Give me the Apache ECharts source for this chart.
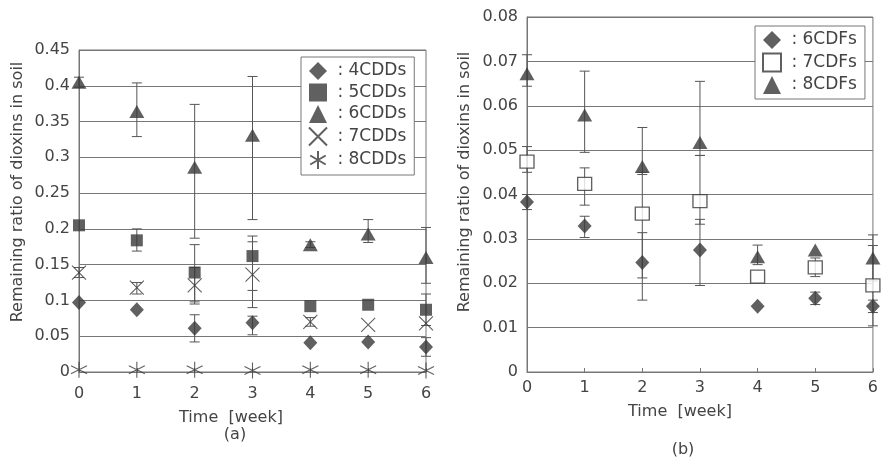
<!DOCTYPE html>
<html>
<head>
<meta charset="utf-8">
<script src="https://cdn.jsdelivr.net/npm/echarts@6/dist/echarts.min.js"></script>
<style>
  html, body { margin: 0; padding: 0; background: #fff; }
  #chart-container { width: 881px; height: 457px; }
</style>
</head>
<body>
<div id="chart-container"></div>
<script>
// weeks on the x axis
const weeks = [0, 1, 2, 3, 4, 5, 6];

// panel (a) - CDDs
const cdd4 = [0.097, 0.087, 0.061, 0.069, 0.041, 0.042, 0.035];
const cdd4Lo = [null, null, 0.042, 0.052, null, null, 0.022];
const cdd4Hi = [null, null, 0.080, 0.078, null, null, 0.048];

const cdd5 = [0.205, 0.184, 0.139, 0.162, 0.092, 0.094, 0.087];
const cdd5Lo = [null, 0.169, 0.095, 0.114, null, null, 0.065];
const cdd5Hi = [null, 0.200, 0.178, 0.190, null, null, 0.109];

const cdd6 = [0.405, 0.364, 0.286, 0.331, 0.178, 0.193, 0.160];
const cdd6Lo = [0.398, 0.329, 0.187, 0.213, 0.174, 0.181, 0.124];
const cdd6Hi = [0.412, 0.404, 0.374, 0.413, 0.182, 0.213, 0.202];

const cdd7 = [0.139, 0.118, 0.121, 0.136, 0.070, 0.066, 0.068];
const cdd7Lo = [0.132, 0.109, 0.098, 0.090, 0.064, null, null];
const cdd7Hi = [0.146, 0.125, 0.146, 0.182, 0.076, null, null];

const cdd8 = [0.003, 0.003, 0.003, 0.002, 0.003, 0.003, 0.002];

// panel (b) - CDFs
const cdf6 = [0.0383, 0.0329, 0.0247, 0.0275, 0.0148, 0.0166, 0.0148];
const cdf6Lo = [0.0366, 0.0303, 0.0162, 0.0195, null, 0.0152, 0.0134];
const cdf6Hi = [0.0400, 0.0351, 0.0314, 0.0344, null, 0.0180, 0.0162];

const cdf7 = [0.0474, 0.0424, 0.0357, 0.0385, 0.0215, 0.0236, 0.0195];
const cdf7Lo = [0.0450, 0.0376, 0.0212, 0.0333, null, 0.0215, 0.0104];
const cdf7Hi = [0.0508, 0.0460, 0.0450, 0.0488, null, 0.0257, 0.0285];

const cdf8 = [0.0672, 0.0579, 0.0463, 0.0517, 0.0260, 0.0275, 0.0257];
const cdf8Lo = [0.0644, 0.0495, 0.0445, 0.0488, 0.0242, null, 0.0205];
const cdf8Hi = [0.0715, 0.0678, 0.0551, 0.0655, 0.0286, null, 0.0309];

const FONT = 'DejaVu Sans';
const TXT = '#444';
const INK = '#383838';
const LINE = '#777';

const pts = vals => weeks.map((w, i) => [w, vals[i]]);

// gather [x, lo, hi] for all error bars of a panel
const errData = (pairs) => {
	let out = [];
	pairs.forEach(([lo, hi]) => {
		weeks.forEach((w, i) => {
			if (lo[i] != null && hi[i] != null) out.push([w, lo[i], hi[i]]);
		});
	});
	return out;
};

const renderErr = (params, api) => {
	const x = api.value(0);
	const a = api.coord([x, api.value(1)]);
	const b = api.coord([x, api.value(2)]);
	const w = 5;
	const st = { stroke: '#555', lineWidth: 1 };
	return {
		type: 'group',
		children: [
			{ type: 'line', shape: { x1: a[0], y1: a[1], x2: b[0], y2: b[1] }, style: st },
			{ type: 'line', shape: { x1: a[0] - w, y1: a[1], x2: a[0] + w, y2: a[1] }, style: st },
			{ type: 'line', shape: { x1: b[0] - w, y1: b[1], x2: b[0] + w, y2: b[1] }, style: st }
		]
	};
};

const crossPath = 'path://M0,0L10,10M10,0L0,10';
const starPath = 'path://M5,0L5,10M0.7,2.5L9.3,7.5M0.7,7.5L9.3,2.5';

const scatter = (name, idx, data, symbol, size, style) => ({
	name: name,
	type: 'scatter',
	xAxisIndex: idx,
	yAxisIndex: idx,
	data: pts(data),
	symbol: symbol,
	symbolSize: size,
	itemStyle: style,
	z: 3,
	silent: true
});

const filled = { color: INK };
const hollow = { color: '#fff', borderColor: INK, borderWidth: 1.3 };
const stroked = { color: 'rgba(0,0,0,0)', borderColor: INK, borderWidth: 1.1 };

const xAxisBase = (gi, margin) => ({
	gridIndex: gi,
	type: 'value',
	min: 0,
	max: 6,
	interval: 1,
	axisLine: { lineStyle: { color: LINE } },
	axisTick: { inside: true, length: 4, lineStyle: { color: LINE } },
	axisLabel: { color: TXT, fontFamily: FONT, fontSize: 16, margin: margin },
	splitLine: { show: false }
});

const yAxisBase = (gi, max, step) => ({
	gridIndex: gi,
	type: 'value',
	min: 0,
	max: max,
	interval: step,
	axisLine: { show: true, lineStyle: { color: LINE } },
	axisTick: { show: false },
	axisLabel: { color: TXT, fontFamily: FONT, fontSize: 16, margin: 9 },
	splitLine: { lineStyle: { color: LINE, width: 1 } }
});

const legendBase = (left, top, names) => ({
	data: names,
	orient: 'vertical',
	left: left,
	top: top,
	padding: [5, 8, 5, 7],
	itemWidth: 18,
	itemHeight: 18,
	itemGap: 3.5,
	backgroundColor: '#fff',
	borderColor: LINE,
	borderWidth: 1,
	formatter: ' : {name}',
	textStyle: { color: TXT, fontFamily: FONT, fontSize: 17, lineHeight: 17 },
	selectedMode: false,
	z: 10
});

const gtext = (text, x, y, rot) => ({
	type: 'text',
	x: x,
	y: y,
	rotation: rot || 0,
	style: {
		text: text,
		fill: TXT,
		font: '16px "DejaVu Sans"',
		align: 'center',
		verticalAlign: 'middle'
	}
});

const myChart = echarts.init(document.getElementById('chart-container'));

const option = {
	backgroundColor: '#fff',
	animation: false,
	grid: [
		{ left: 79, top: 50, width: 347, height: 322, show: true, borderColor: LINE, borderWidth: 1 },
		{ left: 527, top: 17, width: 347, height: 355, show: true, borderColor: LINE, borderWidth: 1 }
	],
	xAxis: [xAxisBase(0, 14), xAxisBase(1, 8)],
	yAxis: [yAxisBase(0, 0.45, 0.05), yAxisBase(1, 0.08, 0.01)],
	legend: [
		legendBase(301, 57, ['4CDDs', '5CDDs', '6CDDs', '7CDDs', '8CDDs']),
		legendBase(755, 26, ['6CDFs', '7CDFs', '8CDFs'])
	],
	graphic: [
		gtext('Remaining ratio of dioxins in soil', 18, 192, Math.PI / 2),
		gtext('Remaining ratio of dioxins in soil', 465, 182, Math.PI / 2),
		gtext('Time  [week]', 231, 418),
		gtext('Time  [week]', 680, 412),
		gtext('(a)', 235, 435),
		gtext('(b)', 683, 450)
	],
	series: [
		{
			type: 'custom',
			xAxisIndex: 0,
			yAxisIndex: 0,
			renderItem: renderErr,
			encode: { x: 0, y: [1, 2] },
			data: errData([[cdd4Lo, cdd4Hi], [cdd5Lo, cdd5Hi], [cdd6Lo, cdd6Hi], [cdd7Lo, cdd7Hi]]),
			z: 1,
			silent: true
		},
		{
			type: 'custom',
			xAxisIndex: 1,
			yAxisIndex: 1,
			renderItem: renderErr,
			encode: { x: 0, y: [1, 2] },
			data: errData([[cdf6Lo, cdf6Hi], [cdf7Lo, cdf7Hi], [cdf8Lo, cdf8Hi]]),
			z: 1,
			silent: true
		},
		scatter('4CDDs', 0, cdd4, 'diamond', [14, 15], filled),
		scatter('5CDDs', 0, cdd5, 'rect', 12, filled),
		scatter('6CDDs', 0, cdd6, 'triangle', [15, 13], filled),
		scatter('7CDDs', 0, cdd7, crossPath, [14, 14], stroked),
		scatter('8CDDs', 0, cdd8, starPath, [16, 16], stroked),
		scatter('6CDFs', 1, cdf6, 'diamond', [14, 15], filled),
		scatter('7CDFs', 1, cdf7, 'rect', [14, 13], hollow),
		scatter('8CDFs', 1, cdf8, 'triangle', [15, 13], filled)
	]
};

myChart.setOption(option);
</script>
</body>
</html>
